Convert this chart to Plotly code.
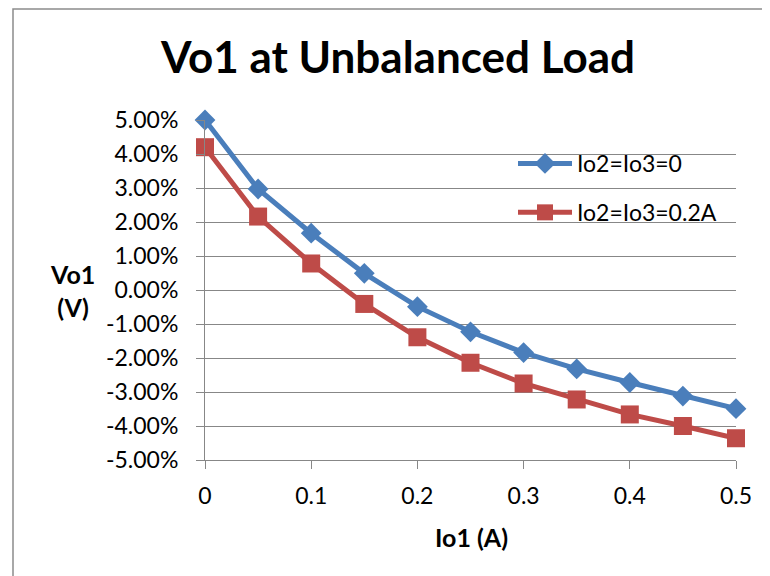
import plotly.graph_objects as go

io1 = [0, 0.05, 0.1, 0.15, 0.2, 0.25, 0.3, 0.35, 0.4, 0.45, 0.5]
vo1_no_load = [5.00, 2.97, 1.67, 0.49, -0.49, -1.23, -1.84, -2.32, -2.72, -3.12, -3.49]
vo1_02A = [4.20, 2.16, 0.78, -0.41, -1.39, -2.14, -2.75, -3.22, -3.66, -4.00, -4.36]
series_names = ["Io2=Io3=0", "Io2=Io3=0.2A"]
y_tick_vals = [5, 4, 3, 2, 1, 0, -1, -2, -3, -4, -5]
y_tick_text = ["5.00%", "4.00%", "3.00%", "2.00%", "1.00%", "0.00%", "-1.00%", "-2.00%", "-3.00%", "-4.00%", "-5.00%"]
x_tick_vals = [0, 0.1, 0.2, 0.3, 0.4, 0.5]
x_tick_text = ["0", "0.1", "0.2", "0.3", "0.4", "0.5"]

FONT = "Lato, Carlito, Calibri, sans-serif"
GRID = "#878787"
FS = 23
FSB = 25

# page body has an 8px margin: work in window coordinates, shift by OFF
OFF = 8
W, H = 770 - OFF, 576 - OFF
PX0, PX1, PY0, PY1 = 205, 736, 120, 460  # plot area in window coords
L = PX0 - OFF
T = PY0 - OFF
R = W - (PX1 - OFF)
B = H - (PY1 - OFF)
PW = PX1 - PX0
PH = PY1 - PY0


def px(xw):
    return (xw - PX0) / PW


def py(yw):
    return (PY1 - yw) / PH


fig = go.Figure()
fig.add_trace(go.Scatter(
    x=io1, y=vo1_no_load, name=series_names[0], mode="lines+markers",
    line=dict(color="#4A7EBB", width=5),
    marker=dict(symbol="diamond", size=16, color="#4A7EBB"),
    legendgroup="a", cliponaxis=False))
fig.add_trace(go.Scatter(
    x=io1, y=vo1_02A, name=series_names[1], mode="lines+markers",
    line=dict(color="#BE4B48", width=5),
    marker=dict(symbol="square", size=18, color="#BE4B48"),
    legendgroup="b", cliponaxis=False))

fig.update_layout(
    width=W, height=H,
    margin=dict(l=L, r=R, t=T, b=B),
    paper_bgcolor="white", plot_bgcolor="white",
    font=dict(family=FONT, size=FS, color="black"),
    title=dict(text="<b>Vo1 at Unbalanced Load</b>", x=(398 - OFF) / W, xanchor="center",
               y=1 - (58 - OFF) / H, yanchor="middle", font=dict(size=44, family=FONT, color="black")),
    showlegend=True,
    legend=dict(x=px(513), y=py(142), xanchor="left", yanchor="top",
                bgcolor="rgba(0,0,0,0)", traceorder="grouped", tracegroupgap=16,
                font=dict(size=FS, family=FONT), itemwidth=54),
)
fig.update_xaxes(
    range=[0, 0.5], tickvals=x_tick_vals, ticktext=x_tick_text,
    showgrid=False, zeroline=False, showline=True, linecolor=GRID, linewidth=1,
    ticks="outside", ticklen=8, tickcolor=GRID, ticklabelstandoff=7,
    tickfont=dict(size=FS, family=FONT))
fig.update_yaxes(
    range=[-5, 5], tickvals=y_tick_vals, ticktext=y_tick_text,
    showgrid=True, gridcolor=GRID, gridwidth=1, zeroline=False,
    showline=True, linecolor=GRID, linewidth=1,
    ticks="outside", ticklen=8, tickcolor=GRID, ticklabelstandoff=13,
    tickfont=dict(size=FS, family=FONT))

fig.add_annotation(text="<b>Vo1<br>(V)</b>", xref="paper", yref="paper",
                   x=px(72), y=py(290), xanchor="center", yanchor="middle",
                   showarrow=False, font=dict(size=FSB, family=FONT))
fig.add_annotation(text="<b>Io1 (A)</b>", xref="paper", yref="paper",
                   x=px(471), y=py(537), xanchor="center", yanchor="middle",
                   showarrow=False, font=dict(size=FSB, family=FONT))

fig.add_shape(type="rect", xref="paper", yref="paper",
              x0=px(13), x1=px(790),
              y0=py(600), y1=py(9),
              line=dict(color="#8C8C8C", width=1.5), fillcolor="rgba(0,0,0,0)", layer="below")

fig.write_html("out.html")
